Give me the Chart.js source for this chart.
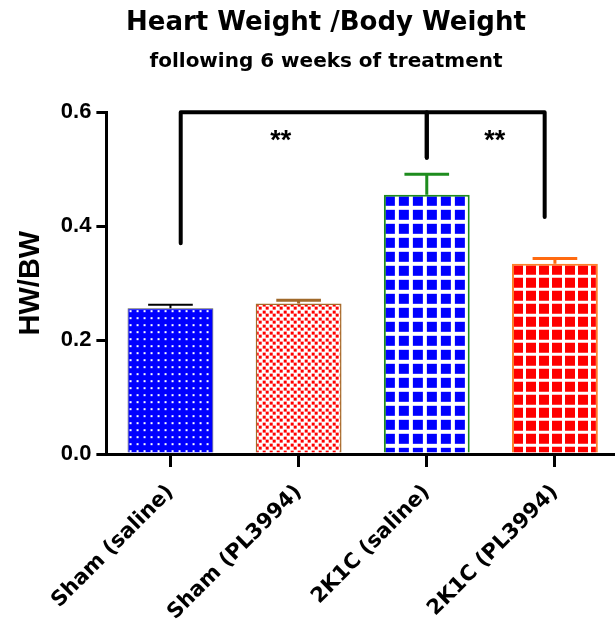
<!DOCTYPE html>
<html lang="en">
<head>
<meta charset="UTF-8">
<title>Heart Weight /Body Weight</title>
<style>
    body {
        margin: 0;
        padding: 0;
        background-color: #fff;
        overflow: hidden;
    }

    #wrap {
        width: 650px;
        height: 620px;
    }
</style>
<script src="https://cdn.jsdelivr.net/npm/chart.js"></script>
</head>
<body>
<div id="wrap"><canvas id="hwChart"></canvas></div>

<script>
    // data
    const groups = ['Sham (saline)', 'Sham (PL3994)', '2K1C (saline)', '2K1C (PL3994)'];
    const hwbw = [0.256, 0.264, 0.455, 0.334];
    const sem = [0.006, 0.006, 0.036, 0.009];
    const yTicks = [0, 0.2, 0.4, 0.6];

    // significance brackets (x in category units, y in HW/BW units)
    const bracketStart = [0.08, 2];
    const bracketEnd = [2, 2.92];
    const bracketStartLeg = [0.37, 0.52];
    const bracketEndLeg = [0.52, 0.416];
    const bracketTop = 0.6;
    const starPos = [0.86, 2.53];
    const starLevel = 0.536;
    const starText = '**';

    const borderColors = ['#555555', '#a66a28', '#1e8c1e', '#ff7f2a'];
    const errColors = ['#000000', '#a0692a', '#1e8c1e', '#ff6a10'];

    // small tile patterns for the bar fills
    function makePattern(w, h, bg, fg, squares) {
        const c = document.createElement('canvas');
        c.width = w;
        c.height = h;
        const g = c.getContext('2d');
        g.fillStyle = bg;
        g.fillRect(0, 0, w, h);
        g.fillStyle = fg;
        squares.forEach(s => g.fillRect(s[0], s[1], s[2], s[2]));
        return g.createPattern(c, 'repeat');
    }

    const patterns = [
        makePattern(7, 7, '#0000ff', '#ffffff', [[2, 2, 2]]),
        makePattern(7, 7, '#ffffff', '#ff0000', [[0, 0, 3], [3, 3, 3]]),
        makePattern(14, 14, '#ffffff', '#0000ff', [[1, 1, 10]]),
        makePattern(13, 13, '#ffffff', '#ff0000', [[1, 1, 10]])
    ];

    // anchor each pattern to its own bar
    const patternAnchor = {
        id: 'patternAnchor',
        beforeDatasetsDraw(chart) {
            chart.getDatasetMeta(0).data.forEach((bar, i) => {
                patterns[i].setTransform(new DOMMatrix().translate(bar.x - bar.width / 2, bar.y));
            });
        }
    };

    const errorBars = {
        id: 'errorBars',
        afterDatasetsDraw(chart) {
            const ctx = chart.ctx;
            const y = chart.scales.y;
            ctx.save();
            chart.getDatasetMeta(0).data.forEach((bar, i) => {
                const yTop = y.getPixelForValue(hwbw[i] + sem[i]);
                const half = bar.width * 0.26;
                ctx.strokeStyle = errColors[i];
                ctx.lineWidth = i === 0 ? 2 : 3;
                ctx.beginPath();
                ctx.moveTo(bar.x, bar.y);
                ctx.lineTo(bar.x, yTop);
                ctx.moveTo(bar.x - half, yTop);
                ctx.lineTo(bar.x + half, yTop);
                ctx.stroke();
            });
            ctx.restore();
        }
    };

    const brackets = {
        id: 'brackets',
        afterDraw(chart) {
            const ctx = chart.ctx;
            const x = chart.scales.x;
            const y = chart.scales.y;
            ctx.save();
            ctx.strokeStyle = '#000';
            ctx.lineWidth = 4;
            ctx.lineCap = 'round';
            ctx.lineJoin = 'round';
            const yt = y.getPixelForValue(bracketTop);
            for (let k = 0; k < bracketStart.length; k++) {
                const x1 = x.getPixelForValue(bracketStart[k]);
                const x2 = x.getPixelForValue(bracketEnd[k]);
                ctx.beginPath();
                ctx.moveTo(x1, y.getPixelForValue(bracketStartLeg[k]));
                ctx.lineTo(x1, yt);
                ctx.lineTo(x2, yt);
                ctx.lineTo(x2, y.getPixelForValue(bracketEndLeg[k]));
                ctx.stroke();
            }
            ctx.fillStyle = '#000';
            ctx.font = 'bold 27px "Liberation Sans", Arial, sans-serif';
            ctx.textAlign = 'center';
            ctx.textBaseline = 'alphabetic';
            starPos.forEach(p => {
                ctx.fillText(starText, x.getPixelForValue(p), y.getPixelForValue(starLevel));
            });
            ctx.restore();
        }
    };

    const ctx = document.getElementById('hwChart').getContext('2d');
    const hwChart = new Chart(ctx, {
        type: 'bar',
        data: {
            labels: groups,
            datasets: [{
                data: hwbw,
                backgroundColor: patterns,
                borderColor: borderColors,
                borderWidth: [1, 1.5, 2, 2],
                categoryPercentage: 1,
                barPercentage: 0.67
            }]
        },
        options: {
            responsive: true,
            maintainAspectRatio: false,
            animation: false,
            layout: {
                padding: { left: 33, right: 31, top: 0, bottom: 0 }
            },
            plugins: {
                legend: { display: false },
                tooltip: { enabled: false },
                title: {
                    display: true,
                    text: 'Heart Weight /Body Weight',
                    color: '#000',
                    font: { family: 'DejaVu Sans', size: 26, weight: 'bold' },
                    padding: { top: 8, bottom: 0 }
                },
                subtitle: {
                    display: true,
                    text: 'following 6 weeks of treatment',
                    color: '#000',
                    font: { family: 'DejaVu Sans', size: 20, weight: 'bold' },
                    padding: { top: 11, bottom: 38 }
                }
            },
            scales: {
                x: {
                    offset: true,
                    // rotated labels are measured generously; let them run to the bottom edge
                    afterFit: scale => {
                        scale.height -= 18;
                    },
                    ticks: {
                        color: '#000',
                        font: { family: 'DejaVu Sans', size: 21, weight: 'bold' },
                        minRotation: 45,
                        maxRotation: 45,
                        padding: 13
                    },
                    grid: {
                        offset: false,
                        drawOnChartArea: false,
                        tickLength: 13,
                        lineWidth: 3,
                        color: '#000'
                    },
                    border: { color: '#000', width: 3 }
                },
                y: {
                    min: 0,
                    max: 0.6,
                    afterBuildTicks: axis => {
                        axis.ticks = yTicks.map(v => ({ value: v }));
                    },
                    ticks: {
                        color: '#000',
                        font: { family: '"Liberation Sans", Arial', size: 22, weight: 'bold' },
                        padding: 5,
                        callback: v => v.toFixed(1)
                    },
                    grid: {
                        drawOnChartArea: false,
                        tickLength: 10,
                        lineWidth: 3,
                        color: '#000'
                    },
                    border: { color: '#000', width: 3 },
                    title: {
                        display: true,
                        text: 'HW/BW',
                        color: '#000',
                        font: { family: '"Liberation Sans", Arial', size: 29, weight: 'bold' },
                        padding: { top: -19, bottom: 7 }
                    }
                }
            }
        },
        plugins: [patternAnchor, errorBars, brackets]
    });
</script>
</body>
</html>
